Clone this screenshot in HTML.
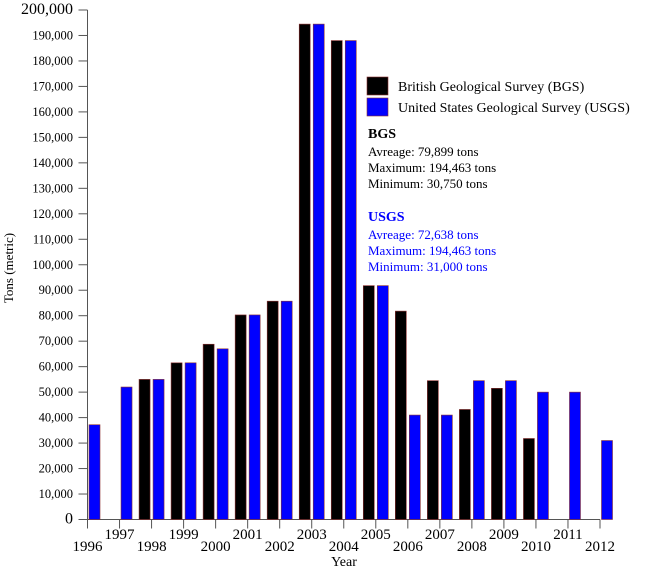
<!DOCTYPE html>
<html><head><meta charset="utf-8"><style>
body{margin:0;background:#fff;}
svg{display:block;font-family:"Liberation Serif",serif;}
</style></head><body>
<svg id="chart" width="650" height="570" viewBox="0 0 650 570">
<g id="axes"></g>
<g id="bars"></g>
<text transform="translate(13,268) rotate(-90)" text-anchor="middle" font-size="13">Tons (metric)</text>
<text x="344" y="566" text-anchor="middle" font-size="14">Year</text>
<g>
<rect x="367" y="77" width="21" height="18" fill="#000" stroke="#8a3030" stroke-width="0.6"/>
<text x="398" y="91" font-size="14">British Geological Survey (BGS)</text>
<rect x="367" y="98" width="21" height="18" fill="#0000ff" stroke="#8a3030" stroke-width="0.6"/>
<text x="398" y="112" font-size="14">United States Geological Survey (USGS)</text>
</g>
<g font-size="13">
<text x="368" y="138" font-weight="bold" font-size="14">BGS</text>
<text x="368" y="156">Avreage: 79,899 tons</text>
<text x="368" y="172">Maximum: 194,463 tons</text>
<text x="368" y="188">Minimum: 30,750 tons</text>
</g>
<g font-size="13" fill="#0000ff">
<text x="368" y="221" font-weight="bold" font-size="14">USGS</text>
<text x="368" y="239">Avreage: 72,638 tons</text>
<text x="368" y="255">Maximum: 194,463 tons</text>
<text x="368" y="271">Minimum: 31,000 tons</text>
</g>
</svg>
<script>
const years=["1996","1997","1998","1999","2000","2001","2002","2003","2004","2005","2006","2007","2008","2009","2010","2011","2012"];
const bgsValues=[null,null,55000,61500,68800,80300,85700,194463,188000,91800,81800,54500,43200,51500,31800,null,null];
const usgsValues=[37200,52000,55000,61500,67000,80300,85700,194463,188000,91800,41000,41000,54500,54500,50000,50000,31000];
const yTicks=[0,10000,20000,30000,40000,50000,60000,70000,80000,90000,100000,110000,120000,130000,140000,150000,160000,170000,180000,190000,200000];
const NS="http://www.w3.org/2000/svg";
const x0=87.5,x1=600,yBase=519.5,yTop=10,yMax=200000;
const xScale=i=>x0+i*(x1-x0)/(years.length-1);
const yScale=v=>yBase-(v/yMax)*(yBase-yTop);
function mk(tag,attrs,parent){const e=document.createElementNS(NS,tag);for(const k in attrs)e.setAttribute(k,attrs[k]);parent.appendChild(e);return e;}
const axes=document.getElementById('axes'),bars=document.getElementById('bars');
let a=mk('line',{x1:x0,y1:yTop,x2:x0,y2:yBase,stroke:'#555','stroke-width':1},axes);

a=mk('line',{x1:x0,y1:yBase,x2:x1,y2:yBase,stroke:'#555','stroke-width':1},axes);

yTicks.forEach(v=>{const y=yScale(v);
 const t=mk('line',{x1:x0-9,y1:y,x2:x0,y2:y,stroke:'#555'},axes);
 
 const big=(v===0||v===yMax);
 const l=mk('text',{x:73,y:y+4,'text-anchor':'end','font-size':big?16:12.5},axes);
 l.textContent=v===0?'0':v.toLocaleString('en-US');
 });
years.forEach((yr,i)=>{const x=xScale(i);
 const t=mk('line',{x1:x,y1:yBase,x2:x,y2:yBase+9,stroke:'#555'},axes);
 
 const l=mk('text',{x:x,y:i%2?539:551,'text-anchor':'middle','font-size':15},axes);
 l.textContent=yr;
 
 const bw=11;
 if(bgsValues[i]!=null){const y=yScale(bgsValues[i]);
  const b=mk('rect',{x:x-bw-1.5,y:y,width:bw,height:yBase-y,fill:'#000',stroke:'#8a3030','stroke-width':0.6},bars);
  }
 if(usgsValues[i]!=null){const y=yScale(usgsValues[i]);
  const b=mk('rect',{x:x+1.5,y:y,width:bw,height:yBase-y,fill:'#0000ff',stroke:'#8a3030','stroke-width':0.6},bars);
  }
});
</script>
</body></html>
